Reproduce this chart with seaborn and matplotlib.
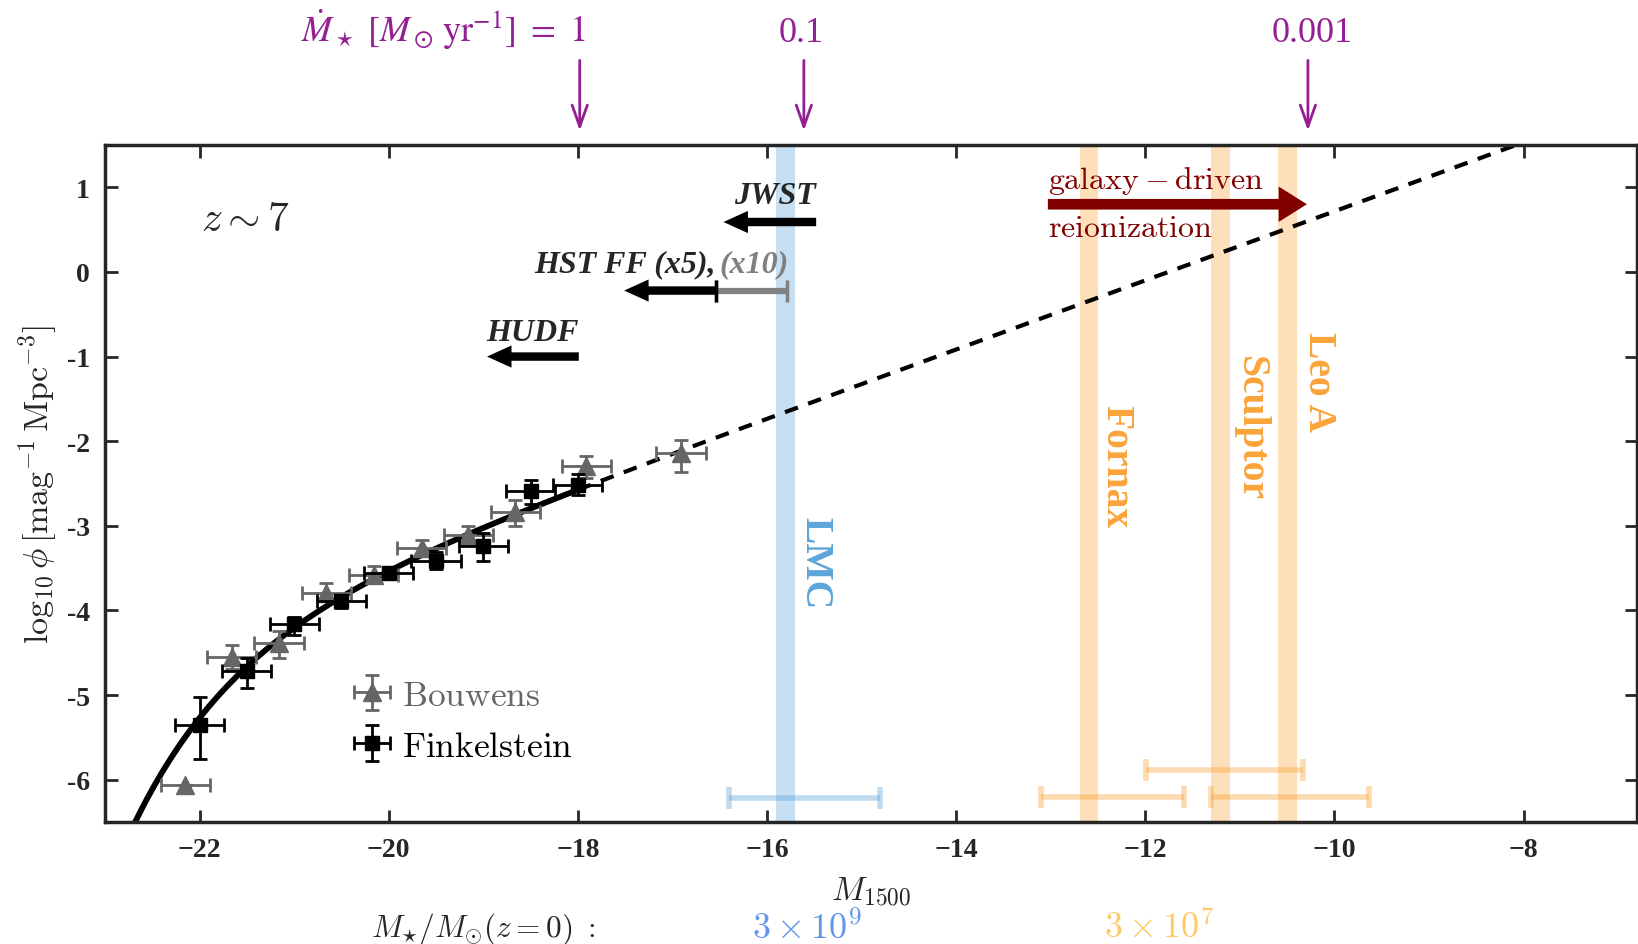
import numpy as np
import pandas as pd
import matplotlib
matplotlib.use("Agg")
import matplotlib.pyplot as plt
import seaborn as sns

# ---------------- data ----------------
bouwens_M = [-22.15, -21.66, -21.16, -20.66, -20.16, -19.65, -19.16, -18.66, -17.91, -16.91]
bouwens_logphi = [-6.06, -4.55, -4.39, -3.79, -3.58, -3.26, -3.11, -2.84, -2.29, -2.14]
bouwens_xerr = [0.26, 0.26, 0.26, 0.26, 0.26, 0.26, 0.26, 0.26, 0.26, 0.26]
bouwens_yerr_lo = [0.0, 0.14, 0.17, 0.09, 0.09, 0.09, 0.11, 0.16, 0.15, 0.22]
bouwens_yerr_hi = [0.0, 0.14, 0.15, 0.11, 0.10, 0.09, 0.11, 0.14, 0.12, 0.15]

fink_M = [-22.0, -21.50, -21.0, -20.50, -20.0, -19.50, -19.0, -18.50, -18.0]
fink_logphi = [-5.35, -4.72, -4.165, -3.89, -3.56, -3.41, -3.24, -2.59, -2.52]
fink_xerr = [0.26, 0.26, 0.26, 0.26, 0.26, 0.26, 0.26, 0.26, 0.26]
fink_yerr_lo = [0.41, 0.20, 0.13, 0.08, 0.05, 0.10, 0.18, 0.15, 0.12]
fink_yerr_hi = [0.33, 0.16, 0.09, 0.07, 0.05, 0.10, 0.15, 0.13, 0.13]

# Schechter fit parameters (z~7)
schechter_Mstar = -21.0
schechter_alpha = -2.02
schechter_logphistar = -3.736
solid_range = (-22.8, -18.0)
dashed_range = (-18.0, -6.8)

# survey limits (arrows)
jwst_lim = (-15.48, -16.46, 0.59)
hst_lim = (-16.54, -17.51, -0.22)
hst10_lim = (-16.54, -15.79, -0.22)
hudf_lim = (-17.99, -18.96, -1.0)
reion_arrow = (-13.03, -10.29, 0.80)

# SFR arrows on top axis
sfr_M = [-17.98, -15.61, -10.28]
sfr_labels = [r"$\dot{M}_\star\ [M_\odot\,\mathrm{yr}^{-1}]\ =\ 1$", "0.1", "0.001"]

# local dwarfs
dwarf_names = ["LMC", "Fornax", "Sculptor", "Leo A"]
dwarf_M = [-15.80, -12.595, -11.20, -10.50]
dwarf_label_M = [-15.49, -12.31, -10.89, -10.17]
dwarf_label_y = [-3.43, -2.29, -1.84, -1.29]
dwarf_range_lo = [-16.40, -13.10, -11.995, -11.30]
dwarf_range_hi = [-14.80, -11.59, -10.33, -9.63]
dwarf_range_y = [-6.22, -6.21, -5.89, -6.21]

xticks = [-22, -20, -18, -16, -14, -12, -10, -8]
yticks = [-6, -5, -4, -3, -2, -1, 0, 1]

# ---------------- style ----------------
sns.set_style("ticks")
plt.rcParams["font.family"] = ["Liberation Serif", "DejaVu Serif"]
plt.rcParams["mathtext.fontset"] = "cm"
plt.rcParams["axes.unicode_minus"] = True

BLUE = "#5DA5DA"
ORANGE = "#FAA43A"
PURPLE = "#931f93"
GRAY = "#666666"

fig = plt.figure(figsize=(16.38, 9.45), dpi=100)
ax = fig.add_axes([0.0641, 0.1291, 0.9353, 0.7164])


def schechter(M):
    x = 10 ** (-0.4 * (M - schechter_Mstar))
    return (np.log10(0.4 * np.log(10)) + schechter_logphistar
            + (schechter_alpha + 1) * np.log10(x) - x / np.log(10))


Ms = np.linspace(*solid_range, 300)
Md = np.linspace(*dashed_range, 300)
df_s = pd.DataFrame({"M": Ms, "logphi": schechter(Ms)})
df_d = pd.DataFrame({"M": Md, "logphi": schechter(Md)})
sns.lineplot(data=df_s, x="M", y="logphi", ax=ax, color="k", lw=4.2, zorder=2)
sns.lineplot(data=df_d, x="M", y="logphi", ax=ax, color="k", lw=3, zorder=2,
             linestyle=(0, (3.3, 2.6)))

# data points
hb = ax.errorbar(bouwens_M, bouwens_logphi, xerr=bouwens_xerr,
                 yerr=[bouwens_yerr_lo, bouwens_yerr_hi], fmt="^", color=GRAY,
                 ms=13, capsize=5, elinewidth=2, capthick=2, zorder=3,
                 label=r"$\mathrm{Bouwens}$")
hf = ax.errorbar(fink_M, fink_logphi, xerr=fink_xerr,
                 yerr=[fink_yerr_lo, fink_yerr_hi], fmt="s", color="k",
                 ms=10, capsize=5, elinewidth=2, capthick=2, zorder=4,
                 label=r"$\mathrm{Finkelstein}$")

# dwarf bands and ranges
for i, name in enumerate(dwarf_names):
    col = BLUE if name == "LMC" else ORANGE
    ax.axvspan(dwarf_M[i] - 0.1, dwarf_M[i] + 0.1, color=col, alpha=0.35, lw=0, zorder=0)
    ax.text(dwarf_label_M[i], dwarf_label_y[i], name, rotation=270, color=col,
            fontsize=28.5, fontweight="bold", ha="center", va="center")
    c = 0.5 * (dwarf_range_lo[i] + dwarf_range_hi[i])
    h = 0.5 * (dwarf_range_hi[i] - dwarf_range_lo[i])
    ax.errorbar([c], [dwarf_range_y[i]], xerr=[h], fmt="none", ecolor=col, alpha=0.4,
                elinewidth=4, capsize=8, capthick=4, zorder=1)

# survey limit arrows
def left_arrow(tail, tip, y, color="k"):
    ax.annotate("", xy=(tip, y), xytext=(tail, y),
                arrowprops=dict(arrowstyle="simple,head_width=1.0,head_length=1.1,tail_width=0.38",
                                mutation_scale=16, color=color, lw=0,
                                shrinkA=0, shrinkB=0), zorder=5)

left_arrow(*jwst_lim)
left_arrow(*hst_lim)
left_arrow(*hudf_lim)
ax.errorbar([0.5 * (hst10_lim[0] + hst10_lim[1])], [hst10_lim[2]],
            xerr=[0.5 * abs(hst10_lim[1] - hst10_lim[0])], fmt="none",
            ecolor="#808080", elinewidth=4.5, capsize=8, capthick=2.5, zorder=4)
ax.plot([hst_lim[0]], [hst_lim[2]], marker="|", ms=16, mew=2.5, color="k", zorder=6)

bi = dict(fontsize=23, fontweight="bold", fontstyle="italic")
ax.text(jwst_lim[0], 0.81, "JWST", ha="right", va="baseline", **bi)
ax.text(-16.54, 0.005, "HST FF (x5),", ha="right", va="baseline", **bi)
ax.text(-16.50, 0.005, "(x10)", ha="left", va="baseline", color="#808080", **bi)
ax.text(hudf_lim[0], -0.80, "HUDF", ha="right", va="baseline", **bi)

# reionization arrow
ax.annotate("", xy=(reion_arrow[1], reion_arrow[2]), xytext=(reion_arrow[0], reion_arrow[2]),
            arrowprops=dict(arrowstyle="simple,head_width=1.5,head_length=1.2,tail_width=0.45",
                            mutation_scale=17, color="#800000", lw=0, shrinkA=0, shrinkB=0),
            zorder=5)
ax.text(reion_arrow[0], 0.99, r"$\mathrm{galaxy-driven}$", color="#800000", fontsize=23,
        ha="left", va="baseline")
ax.text(reion_arrow[0], 0.42, r"$\mathrm{reionization}$", color="#800000", fontsize=23,
        ha="left", va="baseline")

ax.text(-21.98, 0.49, r"$z\sim7$", fontsize=30, ha="left", va="baseline")

# SFR arrows above
for i, (m, lab) in enumerate(zip(sfr_M, sfr_labels)):
    ax.annotate("", xy=(m, 1.67), xytext=(m, 2.50), annotation_clip=False,
                arrowprops=dict(arrowstyle="->,head_length=0.7,head_width=0.25",
                                mutation_scale=22, color=PURPLE, lw=2,
                                shrinkA=0, shrinkB=0))
    if i == 0:
        ax.text(m + 0.06, 2.73, lab, color=PURPLE, fontsize=26, ha="right",
                va="baseline", math_fontfamily="stix", clip_on=False)
    elif i == 1:
        ax.text(m - 0.03, 2.73, lab, color=PURPLE, fontsize=26, ha="center",
                va="baseline", clip_on=False)
    else:
        ax.text(m + 0.04, 2.73, lab, color=PURPLE, fontsize=26, ha="center",
                va="baseline", clip_on=False)

# legend
leg = ax.legend(handles=[hb, hf], loc="upper left", bbox_to_anchor=(0.142, 0.257),
                frameon=False, fontsize=25.5, handlelength=1.0, handletextpad=0.35,
                labelspacing=0.5, numpoints=1, labelcolor=[GRAY, "k"])

# axes
ax.set_xlim(-23.0, -6.8)
ax.set_ylim(-6.5, 1.5)
ax.set_xticks(xticks)
ax.set_xticklabels(["\u2212" + str(abs(t)) for t in xticks])
ax.set_yticks(yticks)
ax.set_yticklabels([str(t) for t in yticks])
ax.tick_params(direction="in", top=True, right=True, length=9, width=2,
               labelsize=20, pad=11)
for lab in ax.get_xticklabels() + ax.get_yticklabels():
    lab.set_fontweight("bold")
for sp in ax.spines.values():
    sp.set_linewidth(2.5)
    sp.set_visible(True)

ax.set_xlabel(r"$M_{1500}$", fontsize=24)
ax.xaxis.set_label_coords(0.5, -0.077)
ax.set_ylabel(r"$\log_{10}\phi\,[\mathrm{mag}^{-1}\,\mathrm{Mpc}^{-3}]$", fontsize=24.5)
ax.yaxis.set_label_coords(-0.030, 0.5)

fig.text(0.2949, 0.0165, r"$M_{\star}/M_{\odot}(z=0)\ :$", fontsize=22.5, ha="center", va="center")
fig.text(0.4927, 0.0165, r"$3\times10^9$", fontsize=26, color="#6495ED", ha="center", va="center")
fig.text(0.708, 0.0165, r"$3\times10^7$", fontsize=26, color="#FFC966", ha="center", va="center")

fig.savefig("out.png", dpi=100)
